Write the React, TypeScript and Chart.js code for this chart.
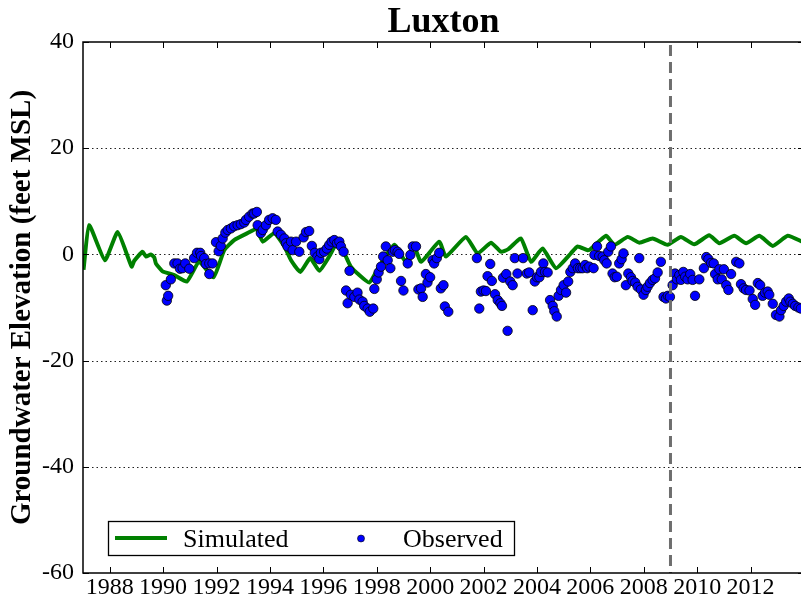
import React, { useEffect, useRef } from "react";
import { Chart, registerables } from "chart.js";

Chart.register(...registerables);

const chartTitle = "Luxton";
const yAxisTitle = "Groundwater Elevation (feet MSL)";
const seriesNames = ["Simulated", "Observed"];

const xTickYears = [1988, 1990, 1992, 1994, 1996, 1998, 2000, 2002, 2004, 2006, 2008, 2010, 2012];
const yTickValues = [-60, -40, -20, 0, 20, 40];
const xRange = [1987, 2014];
const yRange = [-60, 40];
const markerYear = 2009;

const simYears = [
  1987.02, 1987.23, 1987.82, 1988.3, 1988.82, 1988.92, 1989.23, 1989.36, 1989.54, 1989.67,
  1989.73, 1989.98, 1990.42, 1990.89, 1991.35, 1991.89, 1992.29, 1992.66, 1993.16, 1993.5,
  1993.73, 1994.16, 1994.54, 1994.79, 1995.14, 1995.51, 1995.85, 1996.22, 1996.47, 1996.72,
  1996.91, 1997.03, 1997.28, 1997.72, 1998.09, 1998.66, 1999.09, 1999.4, 1999.66, 2000.34,
  2000.59, 2001.34, 2001.78, 2002.28, 2002.65, 2002.93, 2003.4, 2003.78, 2004.21, 2004.71,
  2005.27, 2005.52, 2005.9, 2006.03, 2006.59, 2006.9, 2007.4, 2007.83, 2008.33, 2008.89,
  2009.39, 2009.89, 2010.45, 2010.83, 2011.39, 2011.83, 2012.33, 2012.83, 2013.39, 2013.93,
];
const simValues = [
  -2.9, 5.5, -1.1, 4.2, -2.3, -1.2, 0.5, -0.4, 0.0, -0.6,
  -1.7, -3.2, -3.9, -5.1, -1.4, -4.3, 0.8, 2.7, 4.0, 4.8,
  2.4, 4.0, 1.5, -1.1, -3.3, -0.7, -3.1, -0.4, 1.8, 0.8,
  -1.1, -2.3, -3.6, -5.3, -2.3, 1.8, -1.4, 1.5, -1.4, 2.4,
  -0.4, 3.3, 0.2, 2.2, 0.5, 1.0, 3.0, -1.4, 1.1, -2.6,
  0.2, 1.5, 0.8, 1.1, 3.5, 1.8, 3.3, 2.2, 3.0, 1.8,
  3.3, 1.9, 3.6, 2.1, 3.5, 2.1, 3.5, 1.6, 3.5, 2.4,
];

const obsYears = [
  1990.1, 1990.14, 1990.19, 1990.29, 1990.42, 1990.54, 1990.63, 1990.73, 1990.83, 1990.98,
  1991.16, 1991.27, 1991.39, 1991.42, 1991.54, 1991.6, 1991.73, 1991.73, 1991.85, 1991.98,
  1992.08, 1992.16, 1992.23, 1992.33, 1992.42, 1992.54, 1992.66, 1992.79, 1992.91, 1993.04,
  1993.1, 1993.22, 1993.35,
  1993.41, 1993.51, 1993.54, 1993.66, 1993.73, 1993.85, 1993.97, 1994.1, 1994.22, 1994.29,
  1994.41, 1994.54, 1994.6, 1994.66, 1994.79, 1994.85, 1994.98, 1995.1, 1995.26, 1995.35,
  1995.47, 1995.57, 1995.68, 1995.78, 1995.85, 1995.91, 1996.03, 1996.13, 1996.22, 1996.31,
  1996.41, 1996.51, 1996.6, 1996.66, 1996.76, 1996.98, 1996.85, 1996.91, 1997.03, 1997.16,
  1997.28, 1997.35, 1997.47, 1997.53, 1997.66, 1997.74, 1997.87, 1997.91, 1998.0, 1998.07,
  1998.16, 1998.24, 1998.34, 1998.41, 1998.51, 1998.6, 1998.68, 1998.78, 1998.84, 1998.91,
  1999.0, 1999.16, 1999.26, 1999.35, 1999.47, 1999.56,
  1999.66, 1999.72, 1999.84, 1999.9, 2000.0, 2000.09, 2000.15, 2000.25, 2000.34, 2000.4,
  2000.5, 2000.55, 2000.68, 2001.75, 2001.84, 2001.9, 2002.0, 2002.09, 2002.15, 2002.25,
  2002.31, 2002.43, 2002.53, 2002.63, 2002.69, 2002.73, 2002.85, 2002.9, 2003.0, 2003.09,
  2003.17, 2003.27, 2003.48, 2003.62, 2003.71, 2003.84, 2003.92, 2004.0, 2004.09, 2004.15,
  2004.24, 2004.3, 2004.4, 2004.49, 2004.59, 2004.65, 2004.74, 2004.81, 2004.9, 2005.0,
  2005.09, 2005.17, 2005.25, 2005.34, 2005.43, 2005.53, 2005.62, 2005.71, 2005.8, 2005.88,
  2005.96,
  2006.12, 2006.15, 2006.25, 2006.33, 2006.46, 2006.52, 2006.61, 2006.67, 2006.77, 2006.83,
  2006.91, 2006.99, 2007.08, 2007.17, 2007.24, 2007.33, 2007.42, 2007.52, 2007.58, 2007.68,
  2007.77, 2007.83, 2007.89, 2007.99, 2008.08, 2008.14, 2008.23, 2008.33, 2008.42, 2008.52,
  2008.64, 2008.74, 2008.83, 2008.9, 2008.98, 2009.08, 2009.17, 2009.24, 2009.33, 2009.39,
  2009.48, 2009.55, 2009.64, 2009.74, 2009.83, 2009.92, 2010.08, 2010.25, 2010.34, 2010.42,
  2010.52, 2010.62, 2010.67, 2010.77, 2010.83, 2010.92, 2011.0, 2011.09, 2011.17, 2011.27,
  2011.46, 2011.58, 2011.64, 2011.74, 2011.83, 2011.96, 2012.08, 2012.17, 2012.27, 2012.36,
  2012.45, 2012.54, 2012.64, 2012.7, 2012.83, 2012.95, 2013.08, 2013.14, 2013.24, 2013.33,
  2013.43, 2013.49, 2013.58, 2013.67, 2013.79, 2013.88,
];
const obsValues = [
  -5.8, -8.7, -7.8, -4.7, -1.7, -1.7, -2.7, -2.6, -1.7, -2.7,
  -0.7, 0.3, 0.3, -0.3, -0.7, -1.8, -1.7, -3.7, -1.7, 2.3,
  0.6, 1.6, 3.0, 4.1, 4.6, 4.9, 5.3, 5.5, 5.7, 6.0,
  6.5, 7.1, 7.7,
  7.7, 8.0, 5.5, 4.0, 4.6, 5.5, 6.5, 6.8, 6.5, 4.3,
  3.7, 3.0, 2.1, 1.5, 2.4, 0.8, 2.4, 0.5, 3.2, 4.2,
  4.4, 1.6, 0.3, -0.4, -0.9, 0.3, 0.5, 1.1, 1.8, 2.4,
  2.7, 2.1, 2.4, 1.5, 0.5, -3.1, -6.8, -9.2, -7.6, -8.0,
  -7.2, -8.5, -8.9, -9.7, -10.2, -10.8, -10.2, -6.5, -4.7, -3.4,
  -2.3, -0.4, 1.5, -1.1, -2.6, 0.5, 0.8, 0.5, 0.1, -5.0,
  -6.8, -1.7, -0.1, 1.5, 1.5, -6.6,
  -6.4, -8.0, -3.7, -5.3, -4.3, -1.1, -1.7, -0.7, 0.3, -6.4,
  -5.8, -9.8, -10.8, -0.7, -10.2, -7.0, -6.8, -6.9, -4.1, -1.8,
  -5.0, -7.5, -8.6, -9.2, -9.7, -4.4, -3.7, -14.4, -5.1, -5.8,
  -0.7, -3.6, -0.7, -3.6, -3.4, -10.5, -5.1, -4.3, -4.3, -3.3,
  -1.7, -3.3, -3.4, -8.6, -9.7, -10.7, -11.7, -7.8, -6.7, -5.8,
  -7.2, -5.1, -3.3, -2.6, -1.7, -2.6, -2.6, -2.6, -2.0, -2.6,
  -2.3,
  -2.6, -0.1, 1.5, -0.3, -0.4, -1.1, -1.7, 0.5, 1.5, -3.6,
  -4.3, -4.2, -1.7, -0.9, 0.2, -5.8, -3.6, -4.3, -5.0, -5.3,
  -6.1, -0.7, -6.6, -7.6, -6.7, -6.1, -5.4, -4.8, -4.5, -3.4,
  -1.4, -8.0, -8.3, -7.8, -8.0, -5.8, -3.6, -4.7, -3.9, -4.8,
  -3.3, -4.2, -4.7, -3.7, -4.8, -7.8, -4.7, -2.6, -0.5, -0.9,
  -1.6, -1.7, -3.7, -4.7, -2.8, -4.7, -2.8, -5.8, -6.7, -3.7,
  -1.4, -1.7, -5.6, -6.4, -6.7, -6.8, -8.4, -9.5, -5.4, -5.8,
  -7.8, -7.2, -7.0, -7.6, -9.3, -11.4, -11.7, -10.5, -9.7, -8.9,
  -8.3, -8.9, -9.3, -9.7, -10.0, -10.2,
];

const SERIF = '"Liberation Serif", "Times New Roman", serif';
const GREEN = "#008000";
const BLUE = "#0000ff";

const framePlugin = {
  id: "frame",
  beforeDatasetsDraw(chart: any) {
    const { ctx, chartArea: a, scales } = chart;
    const ys = scales.y;
    ctx.save();
    ctx.strokeStyle = "#222";
    ctx.lineWidth = 1;
    ctx.setLineDash([1.5, 3]);
    yTickValues.forEach((v) => {
      if (v === yRange[0] || v === yRange[1]) return;
      const py = Math.round(ys.getPixelForValue(v)) + 0.5;
      ctx.beginPath();
      ctx.moveTo(a.left, py);
      ctx.lineTo(a.right, py);
      ctx.stroke();
    });
    ctx.restore();
  },
  afterDatasetsDraw(chart: any) {
    const { ctx, chartArea: a, scales } = chart;
    const xs = scales.x;
    const ys = scales.y;
    ctx.save();
    // vertical dashed marker
    const mx = xs.getPixelForValue(markerYear);
    ctx.strokeStyle = "#6e6e6e";
    ctx.lineWidth = 3;
    ctx.setLineDash([11, 6]);
    ctx.beginPath();
    ctx.moveTo(mx, a.top + 3);
    ctx.lineTo(mx, a.bottom);
    ctx.stroke();
    ctx.setLineDash([]);
    // spines
    ctx.strokeStyle = "#000";
    ctx.lineWidth = 1.5;
    ctx.strokeRect(a.left, a.top, a.right - a.left, a.bottom - a.top);
    // inward ticks
    ctx.lineWidth = 1;
    const tl = 6;
    xTickYears.forEach((v) => {
      const px = Math.round(xs.getPixelForValue(v)) + 0.5;
      ctx.beginPath();
      ctx.moveTo(px, a.bottom);
      ctx.lineTo(px, a.bottom - tl);
      ctx.moveTo(px, a.top);
      ctx.lineTo(px, a.top + tl);
      ctx.stroke();
    });
    yTickValues.forEach((v) => {
      const py = Math.round(ys.getPixelForValue(v)) + 0.5;
      ctx.beginPath();
      ctx.moveTo(a.left, py);
      ctx.lineTo(a.left + tl, py);
      ctx.moveTo(a.right, py);
      ctx.lineTo(a.right - tl, py);
      ctx.stroke();
    });
    // legend
    const bx = 108.5, by = 521.5, bw = 406, bh = 34;
    ctx.fillStyle = "#fff";
    ctx.fillRect(bx, by, bw, bh);
    ctx.strokeStyle = "#000";
    ctx.lineWidth = 1.3;
    ctx.strokeRect(bx, by, bw, bh);
    ctx.strokeStyle = GREEN;
    ctx.lineWidth = 4;
    ctx.beginPath();
    ctx.moveTo(115, 538);
    ctx.lineTo(167, 538);
    ctx.stroke();
    ctx.fillStyle = BLUE;
    ctx.strokeStyle = "#000";
    ctx.lineWidth = 0.6;
    ctx.beginPath();
    ctx.arc(361, 538.5, 3.5, 0, Math.PI * 2);
    ctx.fill();
    ctx.stroke();
    ctx.fillStyle = "#000";
    ctx.font = `26px ${SERIF}`;
    ctx.textBaseline = "alphabetic";
    ctx.textAlign = "left";
    ctx.fillText(seriesNames[0], 183, 547);
    ctx.fillText(seriesNames[1], 403, 547);
    ctx.restore();
  },
};

export default function App() {
  const ref = useRef<HTMLCanvasElement | null>(null);
  useEffect(() => {
    if (!ref.current) return;
    const simData = simYears.map((x, i) => ({ x, y: simValues[i] }));
    const obsData = obsYears.map((x, i) => ({ x, y: obsValues[i] }));
    const chart = new Chart(ref.current, {
      type: "scatter",
      data: {
        datasets: [
          {
            label: seriesNames[0],
            data: simData,
            showLine: true,
            borderColor: GREEN,
            backgroundColor: GREEN,
            borderWidth: 4,
            pointRadius: 0,
            pointHoverRadius: 0,
            borderJoinStyle: "round",
            tension: 0.15,
            order: 2,
          } as any,
          {
            label: seriesNames[1],
            data: obsData,
            showLine: false,
            backgroundColor: BLUE,
            borderColor: "#000",
            borderWidth: 0.8,
            pointRadius: 4.7,
            order: 1,
          } as any,
        ],
      },
      options: {
        responsive: false,
        animation: false,
        devicePixelRatio: 1,
        layout: { autoPadding: false, padding: { left: 0, right: 0, top: 0, bottom: 0 } },
        font: { family: SERIF },
        plugins: {
          legend: { display: false },
          tooltip: { enabled: false },
          title: {
            display: true,
            text: chartTitle,
            fullSize: false,
            color: "#000",
            font: { family: SERIF, size: 36, weight: "bold", lineHeight: 1 },
            padding: { top: 5, bottom: 1 },
          },
        },
        scales: {
          x: {
            type: "linear",
            min: xRange[0],
            max: xRange[1],
            grid: { display: false, drawTicks: false },
            border: { display: false },
            afterBuildTicks: (s: any) => {
              s.ticks = xTickYears.map((v) => ({ value: v }));
            },
            afterFit: (s: any) => {
              s.height = 29;
            },
            ticks: {
              color: "#000",
              padding: 0,
              maxRotation: 0,
              autoSkip: false,
              font: { family: SERIF, size: 24 },
              callback: (v: any) => String(v),
            },
          },
          y: {
            type: "linear",
            min: yRange[0],
            max: yRange[1],
            grid: { display: false, drawTicks: false },
            border: { display: false },
            afterBuildTicks: (s: any) => {
              s.ticks = yTickValues.map((v) => ({ value: v }));
            },
            afterFit: (s: any) => {
              s.width = 83;
            },
            title: {
              display: true,
              text: yAxisTitle,
              color: "#000",
              font: { family: SERIF, size: 29, weight: "bold", lineHeight: 1.2 },
              padding: { top: 5, bottom: 0 },
            },
            ticks: {
              color: "#000",
              padding: 9,
              font: { family: SERIF, size: 24 },
              callback: (v: any) => String(v),
            },
          },
        },
      },
      plugins: [framePlugin],
    });
    return () => chart.destroy();
  }, []);

  return (
    <div
      style={{
        position: "absolute",
        left: 0,
        top: 0,
        width: 801,
        height: 602,
        overflow: "hidden",
        background: "#fff",
      }}
    >
      <canvas ref={ref} width={804} height={602} style={{ display: "block" }} />
    </div>
  );
}
